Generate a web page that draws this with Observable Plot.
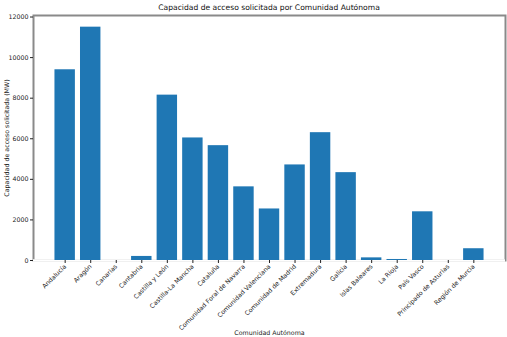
<!DOCTYPE html>
<html>
<head>
<meta charset="utf-8">
<script src="https://cdn.jsdelivr.net/npm/d3@7"></script>
<script src="https://cdn.jsdelivr.net/npm/@observablehq/plot@0.6"></script>
<style>
  html, body { margin: 0; padding: 0; background: #fff; overflow: hidden; font-family: "DejaVu Sans", sans-serif; }
  #title { height: 12px; line-height: 16px; font-size: 7.6px; color: #111; text-align: center; padding-left: 33px; padding-right: 2px; white-space: nowrap; overflow: visible; }
  #chart svg { display: block; max-width: none; }
</style>
</head>
<body>
<div id="title">Capacidad de acceso solicitada por Comunidad Autónoma</div>
<div id="chart"></div>
<script>
const comunidades = [
  "Andalucía", "Aragón", "Canarias", "Cantabria", "Castilla y León",
  "Castilla-La Mancha", "Cataluña", "Comunidad Foral de Navarra",
  "Comunidad Valenciana", "Comunidad de Madrid", "Extremadura", "Galicia",
  "Islas Baleares", "La Rioja", "País Vasco", "Principado de Asturias", "Región de Murcia"
];
const capacidad = [9400, 11500, 0, 200, 8150, 6040, 5660, 3630, 2540, 4710, 6300, 4330, 130, 50, 2400, 0, 580];
const yTicks = [0, 2000, 4000, 6000, 8000, 10000, 12000];

const data = comunidades.map((c, i) => ({comunidad: c, valor: capacidad[i]}));

const chart = Plot.plot({
  width: 507,
  height: 325,
  marginTop: 3,
  marginLeft: 33,
  marginRight: 2,
  marginBottom: 77,
  style: {fontFamily: "DejaVu Sans, sans-serif", fontSize: "6.3px", color: "#222", background: "#fff"},
  x: {domain: comunidades, paddingInner: 0.2, paddingOuter: 0.84, align: 0.5, round: false},
  y: {domain: [0, 12075]},
  marks: [
    Plot.frame({stroke: "#8a8a8a", strokeWidth: 2}),
    Plot.ruleY([0], {stroke: "#fff", strokeWidth: 2.5}),
    Plot.barY(data, {x: "comunidad", y: "valor", fill: "#1f77b4"}),
    Plot.axisX({tickRotate: -45, tickSize: 3, tickPadding: 2, fontSize: 6.3, fill: "#222", stroke: "#222",
      label: "Comunidad Autónoma", labelAnchor: "center", labelOffset: 74, labelArrow: "none"}),
    Plot.axisY({ticks: yTicks, tickFormat: "d", tickSize: 3, tickPadding: 2, fontSize: 6.3, fill: "#222", stroke: "#222",
      label: "Capacidad de acceso solicitada (MW)", labelAnchor: "center", labelOffset: 29, labelArrow: "none"})
  ]
});
document.getElementById("chart").appendChild(chart);
</script>
</body>
</html>
